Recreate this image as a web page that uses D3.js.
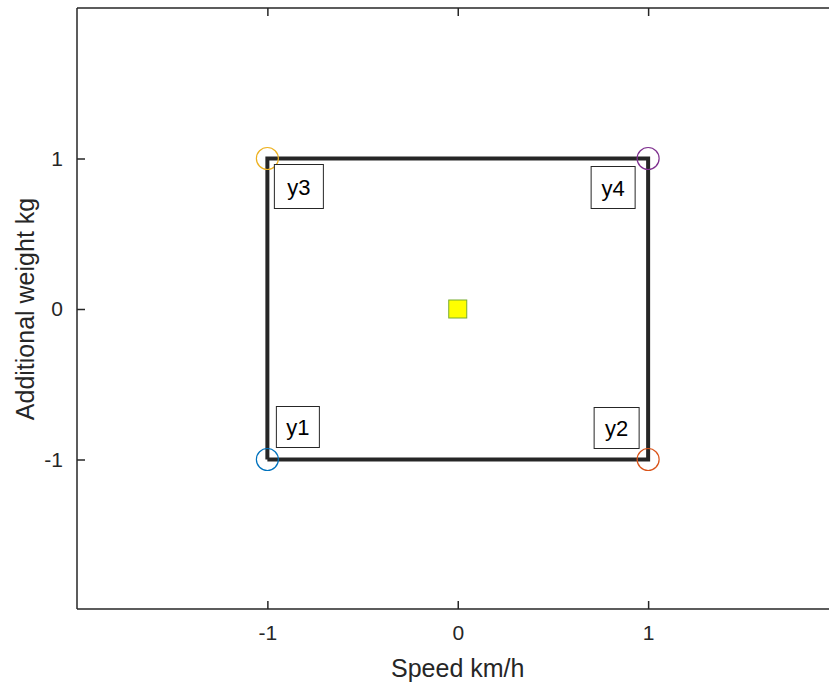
<!DOCTYPE html>
<html>
<head>
<meta charset="utf-8">
<script src="https://cdn.jsdelivr.net/npm/d3@7"></script>
<style>
  html, body { margin: 0; padding: 0; background: #fff; }
  svg { display: block; }
  text { font-family: "Liberation Sans", Arial, Helvetica, sans-serif; fill: #262626; }
</style>
</head>
<body>
<svg id="chart" width="829" height="685"></svg>
<script>
// ---- data ----
const xTicks = [-1, 0, 1];
const yTicks = [-1, 0, 1];
const xDomain = [-2, 2];
const yDomain = [-2, 2];
const cornerNames = ["y1", "y2", "y3", "y4"];
const cornerX = [-1, 1, -1, 1];
const cornerY = [-1, -1, 1, 1];
const cornerColors = ["#0072BD", "#D95319", "#EDB120", "#7E2F8E"];
const rectPathX = [-1, 1, 1, -1, -1];
const rectPathY = [-1, -1, 1, 1, -1];
const centerX = [0];
const centerY = [0];
const xLabel = "Speed km/h";
const yLabel = "Additional weight kg";

// ---- layout ----
const svg = d3.select("#chart");
const pLeft = 77, pRight = 838.5, pTop = 8, pBottom = 610;
const x = d3.scaleLinear().domain(xDomain).range([pLeft, pRight]);
const y = d3.scaleLinear().domain(yDomain).range([pBottom, pTop]);
const axisColor = "#262626";

// axes box (top and left/bottom; right is off-page)
const g = svg.append("g");
g.append("line").attr("x1", pLeft).attr("x2", 829).attr("y1", pTop).attr("y2", pTop)
  .attr("stroke", axisColor).attr("stroke-width", 1.5);
g.append("line").attr("x1", pLeft).attr("x2", 829).attr("y1", pBottom - 1).attr("y2", pBottom - 1)
  .attr("stroke", axisColor).attr("stroke-width", 1.5);
g.append("line").attr("x1", pLeft).attr("x2", pLeft).attr("y1", pTop).attr("y2", pBottom - 1)
  .attr("stroke", axisColor).attr("stroke-width", 1.5);

// bottom axis (inward ticks)
const fmt = d => d < 0 ? "-" + Math.abs(d) : String(d);
const xAxisB = d3.axisBottom(x).tickValues(xTicks).tickSizeInner(-8).tickSizeOuter(0).tickPadding(16)
  .tickFormat(fmt);
const gxb = svg.append("g").attr("transform", `translate(0,${pBottom - 1})`).call(xAxisB);
gxb.select(".domain").remove();
gxb.selectAll(".tick line").attr("stroke", axisColor).attr("stroke-width", 1.5);
gxb.selectAll(".tick text").style("font-size", "21px").attr("fill", axisColor);

// top axis ticks
const xAxisT = d3.axisTop(x).tickValues(xTicks).tickSizeInner(-8).tickSizeOuter(0).tickFormat("");
const gxt = svg.append("g").attr("transform", `translate(0,${pTop})`).call(xAxisT);
gxt.select(".domain").remove();
gxt.selectAll(".tick line").attr("stroke", axisColor).attr("stroke-width", 1.5);

// left axis
const yAxis = d3.axisLeft(y).tickValues(yTicks).tickSizeInner(-8).tickSizeOuter(0).tickPadding(14)
  .tickFormat(fmt);
const gy = svg.append("g").attr("transform", `translate(${pLeft},0)`).call(yAxis);
gy.select(".domain").remove();
gy.selectAll(".tick line").attr("stroke", axisColor).attr("stroke-width", 1.5);
gy.selectAll(".tick text").style("font-size", "21px").attr("fill", axisColor);

// axis labels
svg.append("text").attr("x", x(0)).attr("y", 677).attr("text-anchor", "middle")
  .style("font-size", "25px").text(xLabel);
svg.append("text").attr("transform", `translate(34,${y(0)}) rotate(-90)`).attr("text-anchor", "middle")
  .style("font-size", "25px").text(yLabel);

// rectangle
const line = d3.line().x(i => x(rectPathX[i])).y(i => y(rectPathY[i]));
svg.append("path").attr("d", line(d3.range(rectPathX.length)))
  .attr("fill", "none").attr("stroke", "#262626").attr("stroke-width", 4)
  .attr("stroke-linejoin", "miter");

// corner circles
svg.selectAll("circle.corner").data(cornerNames).join("circle")
  .attr("class", "corner")
  .attr("cx", (d, i) => x(cornerX[i])).attr("cy", (d, i) => y(cornerY[i]))
  .attr("r", 11).attr("fill", "none")
  .attr("stroke", (d, i) => cornerColors[i]).attr("stroke-width", 1.2);

// center square
svg.selectAll("rect.center").data(centerX).join("rect")
  .attr("class", "center")
  .attr("x", (d, i) => x(d) - 9).attr("y", (d, i) => y(centerY[i]) - 9)
  .attr("width", 18).attr("height", 18)
  .attr("fill", "#FFFF00").attr("stroke", "#77AC30").attr("stroke-width", 1);

// label boxes (offset in pixels from corner)
const boxW = [43, 45, 49, 44];
const boxH = [41, 41, 44, 42];
const boxDx = [9, -54, 7, -57];
const boxDy = [-53, -52, 6, 8];
const boxes = svg.selectAll("g.lbl").data(cornerNames).join("g")
  .attr("class", "lbl")
  .attr("transform", (d, i) => `translate(${x(cornerX[i]) + boxDx[i]},${y(cornerY[i]) + boxDy[i]})`);
boxes.append("rect").attr("width", (d, i) => boxW[i]).attr("height", (d, i) => boxH[i])
  .attr("fill", "#fff").attr("stroke", "#262626").attr("stroke-width", 1);
boxes.append("text").attr("x", (d, i) => boxW[i] / 2).attr("y", (d, i) => boxH[i] / 2 + 8)
  .attr("text-anchor", "middle").style("font-size", "22px").style("fill", "#000").text(d => d);
</script>
</body>
</html>
